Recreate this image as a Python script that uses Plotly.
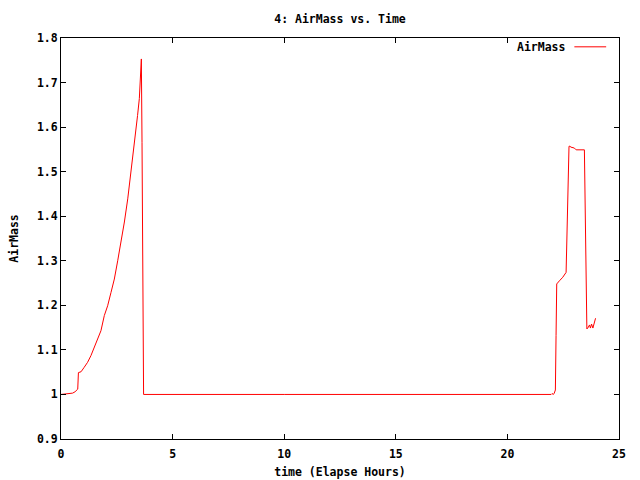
import plotly.graph_objects as go

hours = [0.0, 0.25, 0.52, 0.63, 0.75, 0.78, 0.90, 1.04, 1.19, 1.34, 1.49, 1.64, 1.79, 1.94,
         2.09, 2.24, 2.39, 2.54, 2.69, 2.84, 2.99, 3.13, 3.28, 3.43, 3.51, 3.55, 3.57, 3.60,
         3.63, 3.66, 3.70, 10.0, 16.0, 21.96, 22.0, 22.06, 22.1, 22.15, 22.18, 22.21, 22.33,
         22.48, 22.63, 22.66, 22.70, 22.76, 22.80, 22.85, 23.0, 23.08, 23.45, 23.48, 23.52,
         23.56, 23.60, 23.68, 23.72, 23.77, 23.83, 23.90, 23.95]
airmass = [1.0, 1.002, 1.003, 1.006, 1.012, 1.049, 1.051, 1.061, 1.072, 1.087, 1.106, 1.121,
           1.143, 1.177, 1.199, 1.229, 1.259, 1.300, 1.342, 1.387, 1.439, 1.495, 1.559, 1.626,
           1.664, 1.727, 1.715, 1.753, 1.565, 1.188, 1.0, 1.0, 1.0, 1.0, 1.002, 1.0, 1.003,
           1.01, 1.132, 1.248, 1.255, 1.263, 1.274, 1.342, 1.473, 1.557, 1.557, 1.555, 1.553,
           1.549, 1.549, 1.446, 1.248, 1.147, 1.149, 1.156, 1.149, 1.158, 1.149, 1.159, 1.171]

x_ticks = [0, 5, 10, 15, 20, 25]
y_ticks = [0.9, 1.0, 1.1, 1.2, 1.3, 1.4, 1.5, 1.6, 1.7, 1.8]
y_tick_labels = ["0.9", "1", "1.1", "1.2", "1.3", "1.4", "1.5", "1.6", "1.7", "1.8"]

FONT = "DejaVu Sans Mono"
FS = 11.5
font = dict(family=FONT, size=FS, color="black", weight="bold")

fig = go.Figure()
fig.add_trace(go.Scatter(x=hours, y=airmass, mode="lines", name="AirMass",
                         line=dict(color="#ff0000", width=1), showlegend=False))

axis_common = dict(showline=True, linecolor="black", linewidth=1, mirror="ticks",
                   ticks="inside", ticklen=5, tickwidth=1, tickcolor="black", showgrid=False,
                   zeroline=False, tickfont=font, automargin=False)

fig.update_xaxes(range=[0, 25], tickvals=x_ticks, ticktext=[str(v) for v in x_ticks],
                 ticklabelstandoff=4,
                 title=dict(text="time (Elapse Hours)", font=font, standoff=8), **axis_common)
fig.update_yaxes(range=[0.9, 1.8], tickvals=y_ticks, ticktext=y_tick_labels,
                 title=dict(text="AirMass", font=font, standoff=15), **axis_common)

fig.add_annotation(xref="paper", yref="paper", x=0.907, y=0.978, xanchor="right", yanchor="middle",
                   text="AirMass", showarrow=False, font=font)
fig.add_shape(type="line", xref="paper", yref="paper", x0=0.920, x1=0.977, y0=0.978, y1=0.978,
              line=dict(color="#ff0000", width=1))

fig.update_layout(
    template="none",
    width=640, height=480, autosize=False,
    margin=dict(l=61, r=21, t=38, b=41, pad=0),
    paper_bgcolor="white", plot_bgcolor="white",
    title=dict(text="4: AirMass vs. Time", x=0.5, xref="paper", y=0.961, yanchor="middle",
               font=font),
)

fig.write_html("out.html", config={"displayModeBar": False})

with open("out.html", "r", encoding="utf-8") as f:
    html = f.read()
html = html.replace("<head>", "<head><style>html,body{margin:0;padding:0;overflow:hidden;}</style>", 1)
with open("out.html", "w", encoding="utf-8") as f:
    f.write(html)
